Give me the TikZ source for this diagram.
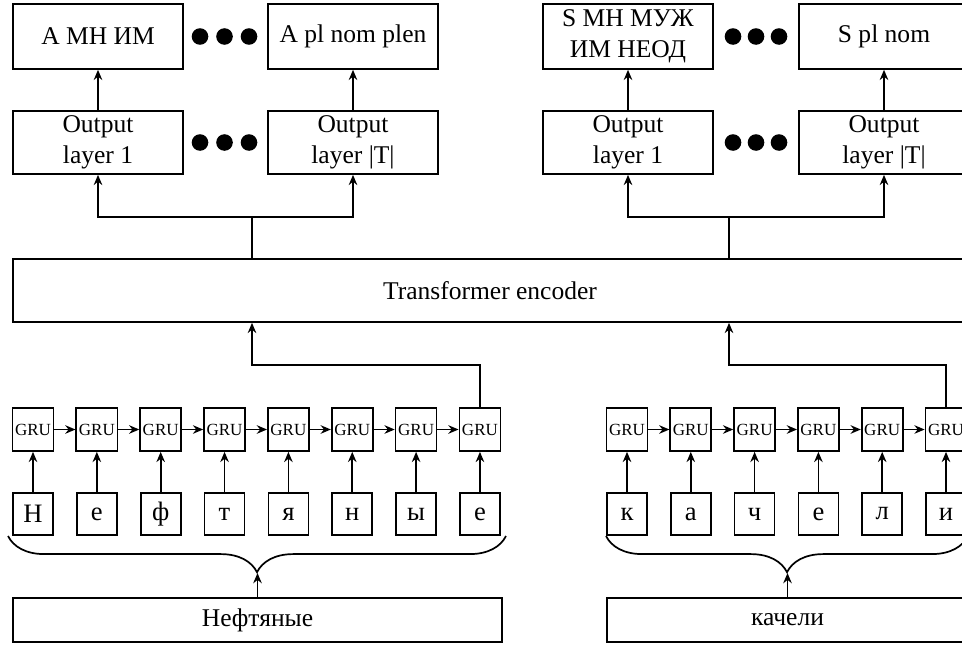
\documentclass[tikz,border=0pt]{standalone}
\usepackage{fontspec}
\setmainfont{Liberation Serif}
\usetikzlibrary{arrows.meta,decorations.pathreplacing}
\tikzset{
  tagbox/.style={draw, inner sep=0pt, align=center, minimum width=79.9pt, minimum height=30.5pt, font=\fontsize{12}{14.5}\selectfont},
  outbox/.style={tagbox, minimum height=29.6pt},
  grubox/.style={draw, inner sep=0pt, minimum width=19.3pt, minimum height=20.2pt, font=\fontsize{8}{9}\selectfont},
  charbox/.style={draw, inner sep=0pt, minimum width=18.8pt, minimum height=19.7pt, font=\fontsize{12.5}{14}\selectfont},
  wordbox/.style={draw, inner sep=0pt, minimum height=20.7pt, font=\fontsize{12}{14}\selectfont},
  dotmark/.style={fill=black},
  wbrace/.style={decorate, decoration={brace, amplitude=17pt}}
}
\begin{document}
\begin{tikzpicture}[x=0.47pt, y=-0.47pt, line width=0.8pt, >={Stealth[length=4.8pt,width=4pt]}]
\useasboundingbox (0,0) rectangle (962,644);
\clip (0,0) rectangle (962,644);
% left word
\node[tagbox] (a1) at (98,36.5) {A МН ИМ};
\node[tagbox] (aT) at (353,36.5) {A pl nom plen};
\node[outbox] (la1) at (98,142.5) {Output\\layer 1};
\node[outbox] (laT) at (353,142.5) {Output\\layer |T|};
% right word
\node[tagbox] (s1) at (628,36.5) {S МН МУЖ\\ИМ НЕОД};
\node[tagbox] (sT) at (884,36.5) {S pl nom};
\node[outbox] (ls1) at (628,142.5) {Output\\layer 1};
\node[outbox] (lsT) at (884,142.5) {Output\\layer |T|};
\foreach \x in {200,224.5,249,733,756,779} {
  \fill[dotmark] (\x,36.5) circle (3.9pt);
  \fill[dotmark] (\x,142.5) circle (3.9pt);
}
\draw[->] (la1) -- (a1);
\draw[->] (laT) -- (aT);
\draw[->] (ls1) -- (s1);
\draw[->] (lsT) -- (sT);
% encoder
\node[draw, inner sep=0pt, minimum width=452pt, minimum height=29.6pt, font=\fontsize{12}{14}\selectfont] (enc) at (494,290.5) {};
\node[font=\fontsize{12}{14}\selectfont] (enctext) at (490,290.5) {Transformer encoder};
\coordinate (ja) at (252,217);
\coordinate (js) at (729,217);
\draw (ja |- enc.north) -- (ja);
\draw[->] (ja) -| (la1.south);
\draw[->] (ja) -| (laT.south);
\draw (js |- enc.north) -- (js);
\draw[->] (js) -| (ls1.south);
\draw[->] (js) -| (lsT.south);
% char GRUs, left
\foreach \c [count=\i] in {Н,е,ф,т,я,н,ы,е} {
  \node[grubox] (gl\i) at ({33+63.85*(\i-1)},429.5) {GRU};
  \node[charbox] (cl\i) at ({33+63.85*(\i-1)},514) {\c};
  \draw[->] (cl\i) -- (gl\i);
}
\foreach \i [evaluate=\i as \j using int(\i+1)] in {1,...,7}
  \draw[->] (gl\i) -- (gl\j);
% char GRUs, right
\foreach \c [count=\i] in {к,а,ч,е,л,и} {
  \node[grubox] (gr\i) at ({627+63.8*(\i-1)},429.5) {GRU};
  \node[charbox] (cr\i) at ({627+63.8*(\i-1)},514) {\c};
  \draw[->] (cr\i) -- (gr\i);
}
\foreach \i [evaluate=\i as \j using int(\i+1)] in {1,...,5}
  \draw[->] (gr\i) -- (gr\j);
\coordinate (ka) at (252,365);
\coordinate (ks) at (729,365);
\draw[->] (gl8.north) |- (ka) -- (ka |- enc.south);
\draw[->] (gr6.north) |- (ks) -- (ks |- enc.south);
% words
\node[wordbox, minimum width=229.8pt] (wl) at (257.5,620) {Нефтяные};
\node[wordbox, minimum width=169.7pt] (wr) at (787.5,620) {качели};
\draw[wbrace] (506,536) -- (8,536);
\draw[wbrace] (968,536) -- (606,536);
\coordinate (tl) at (257,573);
\coordinate (tr) at (787,573);
\draw[->] (wl.north) -- (wl.north |- tl);
\draw[->] (wr.north) -- (wr.north |- tr);
\end{tikzpicture}
\end{document}
